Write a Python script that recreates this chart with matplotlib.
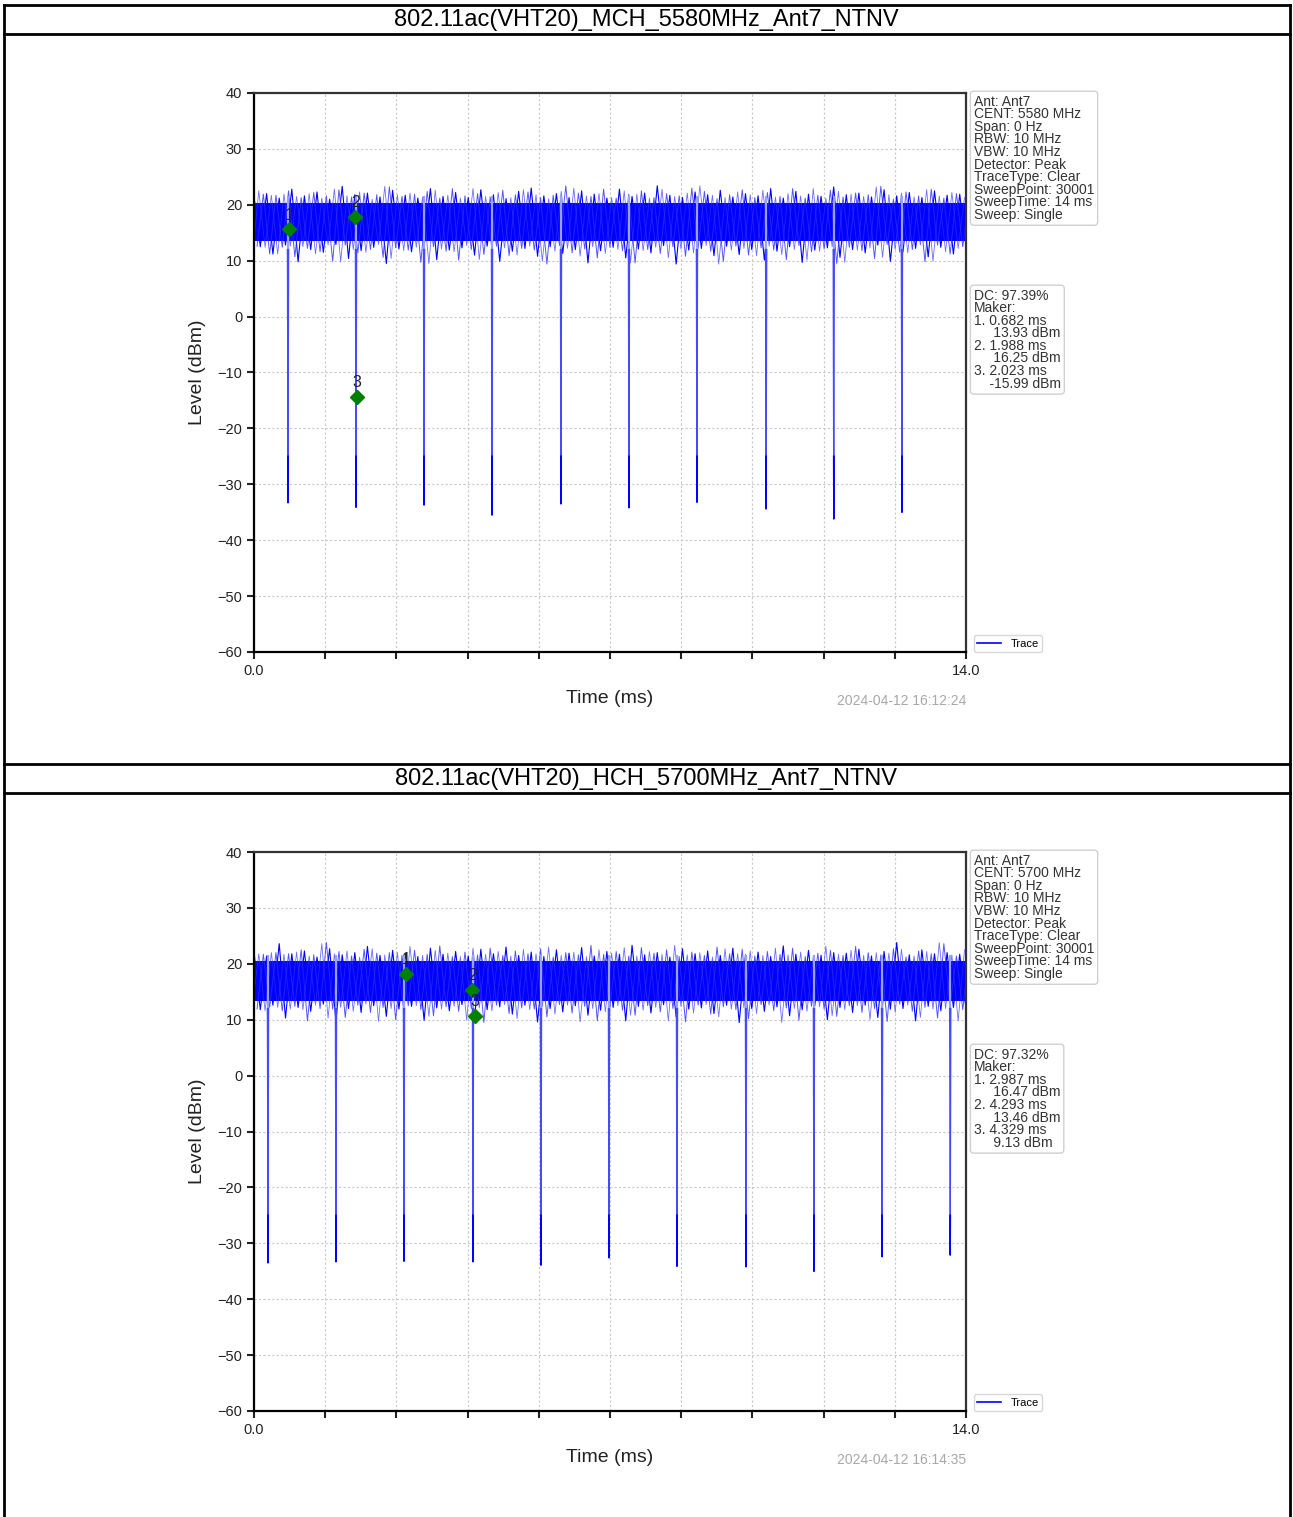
# Two zero-span duty cycle plots laid out in a report table
import numpy as np
import matplotlib
matplotlib.use("Agg")
import matplotlib.pyplot as plt

plt.rcParams['font.family'] = ['Liberation Sans', 'DejaVu Sans']

W, H = 1293, 1517

# ---- data ----
titles = ["802.11ac(VHT20)_MCH_5580MHz_Ant7_NTNV",
          "802.11ac(VHT20)_HCH_5700MHz_Ant7_NTNV"]
cent = ["5580 MHz", "5700 MHz"]
stamps = ["2024-04-12 16:12:24", "2024-04-12 16:14:35"]
duty = ["97.39%", "97.32%"]
marker_txt = [[("0.682 ms", "13.93 dBm"), ("1.988 ms", "16.25 dBm"), ("2.023 ms", "-15.99 dBm")],
              [("2.987 ms", "16.47 dBm"), ("4.293 ms", "13.46 dBm"), ("4.329 ms", "9.13 dBm")]]

# marker positions as drawn on the plot
mk_t = [[0.69, 1.99, 2.02], [2.99, 4.29, 4.35]]
mk_lv = [[15.6, 17.8, -14.4], [18.2, 15.3, 10.7]]

# off-times (dips) and their depth
dip_t = [[0.669, 2.006, 3.343, 4.680, 6.036, 7.373, 8.710, 10.07, 11.40, 12.74],
         [0.275, 1.612, 2.949, 4.306, 5.643, 6.980, 8.317, 9.674, 11.01, 12.35, 13.69]]
dip_lv = [[-33.3, -34.1, -33.7, -35.5, -33.5, -34.2, -33.2, -34.4, -36.2, -35.0],
          [-33.5, -33.3, -33.2, -33.3, -33.9, -32.6, -34.1, -34.2, -35.0, -32.4, -32.1]]

# on-state level band (solid part of the trace)
band_lo = [13.5, 13.4]
band_hi = [20.4, 20.5]

# noise envelope: upper and lower excursions of the on-state trace
top1 = [21.5, 22.0, 21.2, 22.8, 21.6, 22.3, 21.0, 23.3, 21.8, 22.1, 21.4, 22.6, 21.7, 21.2,
        22.9, 21.5, 22.2, 21.3, 22.7, 21.8, 21.1, 22.4, 23.0, 21.6, 22.0, 21.3, 22.5, 21.9,
        21.2, 22.8, 21.5, 22.1, 23.4, 21.7, 21.3, 22.3, 21.8, 22.6, 21.4, 22.0, 21.6, 22.9,
        21.2, 22.4, 21.9, 21.5, 23.2, 21.8, 22.1, 21.4, 22.7, 21.6, 22.2, 21.3, 22.5, 21.7, 21.9]
bot1 = [12.5, 11.2, 12.8, 9.8, 12.0, 11.5, 12.9, 10.4, 11.8, 12.4, 9.5, 12.1, 11.6, 12.7,
        10.2, 11.9, 12.3, 11.0, 12.6, 9.9, 11.7, 12.2, 10.8, 12.5, 11.3, 12.0, 9.6, 11.8,
        12.4, 10.5, 12.1, 11.4, 12.7, 9.4, 11.9, 12.2, 10.9, 12.6, 11.1, 12.0, 10.1, 11.7,
        12.5, 9.7, 11.9, 12.3, 10.6, 12.0, 11.4, 12.8, 9.9, 11.6, 12.2, 10.7, 12.4, 11.2, 12.6]
top2 = [22.1, 21.4, 23.6, 21.8, 22.3, 21.2, 22.7, 21.6, 22.0, 23.1, 21.5, 22.4, 21.9, 21.3,
        22.8, 21.7, 22.2, 21.4, 22.6, 21.8, 23.0, 21.5, 22.1, 21.3, 22.5, 21.9, 22.9, 21.4,
        22.2, 21.7, 23.3, 21.6, 22.0, 21.2, 22.7, 21.8, 22.3, 21.5, 22.8, 21.6, 22.1, 21.3,
        23.2, 21.7, 22.4, 21.5, 22.0, 21.9, 22.6, 21.4, 22.2, 23.8, 21.6, 22.5, 21.8, 22.0, 21.7]
bot2 = [11.8, 12.6, 10.3, 12.2, 11.5, 12.8, 9.7, 12.0, 11.3, 12.5, 10.6, 11.9, 12.4, 9.9,
        12.1, 11.6, 12.7, 10.2, 11.8, 12.3, 11.0, 12.6, 9.6, 12.0, 11.4, 12.5, 10.8, 11.7,
        12.2, 9.8, 12.4, 11.2, 12.7, 10.5, 11.9, 12.1, 11.1, 12.6, 9.5, 12.0, 11.5, 12.3,
        10.7, 11.8, 12.5, 10.0, 12.2, 11.3, 12.6, 10.4, 11.9, 12.0, 9.8, 12.4, 11.6, 12.2, 11.9]
tops = [top1, top2]
bots = [bot1, bot2]

yticks = [-60, -50, -40, -30, -20, -10, 0, 10, 20, 30, 40]
xticks = [0.0, 1.4, 2.8, 4.2, 5.6, 7.0, 8.4, 9.8, 11.2, 12.6, 14.0]

fig = plt.figure(figsize=(W / 100, H / 100), dpi=100)

# table frame drawn in pixel coordinates
frame = fig.add_axes([0, 0, 1, 1])
frame.set_xlim(0, W)
frame.set_ylim(H, 0)
frame.axis("off")
frame.plot([4, 4], [5, H], color="black", lw=2)
frame.plot([1290, 1290], [5, H], color="black", lw=2)
for y in [5, 34, 764, 793]:
    frame.plot([4, 1290], [y, y], color="black", lw=2)
frame.text(646, 20, titles[0], ha="center", va="center", fontsize=17)
frame.text(646, 779, titles[1], ha="center", va="center", fontsize=17)

ax_top = [93, 852]   # pixel row of +40 dBm
for i in range(2):
    y0 = ax_top[i]
    ax = fig.add_axes([254 / W, 1 - (y0 + 559) / H, 712 / W, 559 / H])

    # on-state noise: solid band plus zig-zags through the excursions
    ax.axhspan(band_lo[i], band_hi[i], color="#0000ff", lw=0, zorder=2)
    zz = np.ravel(np.column_stack([tops[i], bots[i]]))
    tz = np.linspace(0, 14, len(zz))
    ax.plot(tz, zz, color="#0000ff", lw=0.8, zorder=2)
    ax.plot(tz + 0.06, zz[::-1], color="#2a2aff", lw=0.7, alpha=0.8, zorder=2)
    ax.plot(tz - 0.03, np.roll(zz, 7), color="#3030ff", lw=0.6, alpha=0.7, zorder=2)

    # off-time dips
    for t, d in zip(dip_t[i], dip_lv[i]):
        ax.vlines(t, 11, 21.5, color="#9aa0ff", lw=1.6, zorder=3)
        ax.plot([t - 0.012, t, t + 0.012], [12, d, 12], color="#4848ff", lw=0.9, zorder=3)
        ax.plot([t - 0.004, t, t + 0.004], [-25, d, -25], color="#0000ff", lw=1.0, zorder=3)

    # markers
    for k in range(3):
        ax.plot(mk_t[i][k], mk_lv[i][k], marker="D", color="green", ms=7, zorder=5)
        ax.text(mk_t[i][k], mk_lv[i][k] + 1.2, str(k + 1), ha="center", va="bottom",
                fontsize=11.5, color="#222222", zorder=5)

    ax.plot([], [], color="#0000ff", lw=1.2, label="Trace")

    ax.set_xlim(0, 14)
    ax.set_ylim(-60, 40)
    ax.set_yticks(yticks)
    ax.set_xticks(xticks)
    ax.set_xticklabels(["0.0"] + [""] * 9 + ["14.0"])
    ax.tick_params(labelsize=10.5, width=1.5, length=5, colors="#222222")
    ax.grid(True, color="#c8c8c8", linestyle=(0, (2, 2)), lw=0.8)
    for s in ax.spines.values():
        s.set_linewidth(1.6)
    ax.spines["top"].set_color("#333333")
    ax.spines["right"].set_color("#333333")

    ax.text(0.5, -0.084, "Time (ms)", transform=ax.transAxes, ha="center", va="center",
            fontsize=14, color="#222222")
    ax.text(-0.0787, 0.5, "Level (dBm)", transform=ax.transAxes, ha="center", va="center",
            rotation=90, fontsize=14, color="#222222")
    ax.text(1.0, -0.0877, stamps[i], transform=ax.transAxes, ha="right", va="center",
            fontsize=10, color="#a8a8a8")

    info = "\n".join(["Ant: Ant7", "CENT: " + cent[i], "Span: 0 Hz", "RBW: 10 MHz",
                      "VBW: 10 MHz", "Detector: Peak", "TraceType: Clear",
                      "SweepPoint: 30001", "SweepTime: 14 ms", "Sweep: Single"])
    ax.text(1.011, 0.997, info, transform=ax.transAxes, ha="left", va="top",
            fontsize=10, linespacing=0.87, color="#333333",
            bbox=dict(boxstyle="round,pad=0.25", fc="white", ec="#d0d0d0", lw=1))

    mk_lines = ["DC: " + duty[i], "Maker:"]
    for k, (a, b) in enumerate(marker_txt[i]):
        mk_lines.append(f"{k + 1}. {a}")
        mk_lines.append("     " + b if not b.startswith("-") else "    " + b)
    ax.text(1.011, 0.65, "\n".join(mk_lines), transform=ax.transAxes, ha="left", va="top",
            fontsize=10, linespacing=0.87, color="#333333",
            bbox=dict(boxstyle="round,pad=0.25", fc="white", ec="#d0d0d0", lw=1))

    ax.legend(loc="lower left", bbox_to_anchor=(1.003, -0.01), fontsize=8,
              handlelength=2.2, framealpha=1, edgecolor="#d8d8d8", borderpad=0.3)

plt.savefig("out.png", dpi=100)
